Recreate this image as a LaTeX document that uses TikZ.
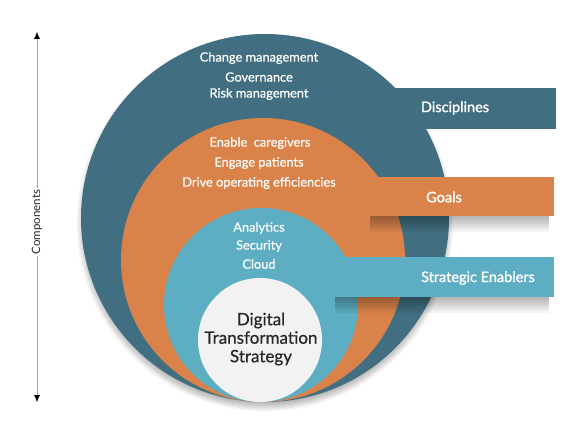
\documentclass[tikz,border=0pt]{standalone}
\usepackage{fontspec}
\setmainfont{Lato}
\newfontfamily\medfont{Lato}[FakeBold=0.6]
\newfontfamily\semifont{Lato}[FakeBold=1.4]
\usepackage{tikz}
\usetikzlibrary{arrows.meta,shadows.blur}
\definecolor{discblue}{HTML}{416E80}
\definecolor{goalorange}{HTML}{D9834A}
\definecolor{enabteal}{HTML}{5DADC3}
\definecolor{corewhite}{HTML}{F2F2F2}

\begin{document}
\begin{tikzpicture}[x=1pt, y=-1pt,
  ring/.style = {circle, inner sep=0pt, draw=none},
  band/.style = {rectangle, inner sep=0pt, draw=none, anchor=west, minimum height=40pt},
  item/.style = {text=white, font=\medfont\fontsize{12.8}{14}\selectfont},
  tag/.style = {text=white, font=\semifont\fontsize{14.5}{16}\selectfont},
  shade/.style = {blur shadow={shadow xshift=0pt, shadow yshift=-5pt, shadow blur radius=5pt, shadow blur steps=10, shadow opacity=30}}]
	\useasboundingbox (0,0) rectangle (584,425);
	% rings and bands, outer to inner
	\node[ring, fill=discblue, minimum size=368pt, shade] (outer) at (265,218){};
	\node[band, fill=discblue, minimum width=171pt, minimum height=41pt] (discbar) at (385,108.5){};
	\node[ring, fill=goalorange, minimum size=284pt] (mid) at (263,260){};
	\node[band, fill=goalorange, minimum width=184pt, minimum height=39pt] (goalbar) at (370,196.5){};
	\foreach \d in {2,4,...,16}
		\fill[black, opacity=0.04] (goalbar.south west) rectangle ([xshift=-5pt, yshift=-\d pt]goalbar.south east);
	\node[ring, fill=enabteal, minimum size=194pt] (inner) at (261,305){};
	\node[band, fill=enabteal, minimum width=219pt, minimum height=40pt] (enabbar) at (335,277){};
	\foreach \d in {2,4,...,16}
		\fill[black, opacity=0.04] (enabbar.south west) rectangle ([xshift=-5pt, yshift=-\d pt]enabbar.south east);
	\node[ring, fill=corewhite, minimum size=124pt] (core) at (260,340){};
	% texts
	\node[item] (chg) at (259,58){Change management};
	\node[item] (gov) at (259,77){Governance};
	\node[item] (risk) at (259,94){Risk management};
	\node[item] (care) at (260,143){Enable\ \ caregivers};
	\node[item] (pat) at (259,163){Engage patients};
	\node[item] (eff) at (259,183){Drive operating efficiencies};
	\node[item] (ana) at (259,228){Analytics};
	\node[item] (sec) at (259,246){Security};
	\node[item] (cld) at (259,264){Cloud};
	\node[tag] (disc) at (455,108){Disciplines};
	\node[tag] (goal) at (444,197){Goals};
	\node[tag] (enab) at (478,278){Strategic Enablers};
	\node[align=center, text=black!85, font=\medfont\fontsize{17}{18.5}\selectfont] (dts) at (261,339){Digital\\Transformation\\Strategy};
	% components axis
	\coordinate (ctop) at (37,32);
	\coordinate (cbot) at (37,402);
	\node[rotate=90, fill=white, inner sep=2pt, text=black!85, font=\fontsize{11.5}{13}\selectfont] (comp) at (37,222){Components};
	\draw[gray!70, -{Latex[black, length=7pt, width=6pt]}] (comp) -- (ctop);
	\draw[gray!70, -{Latex[black, length=7pt, width=6pt]}] (comp) -- (cbot);
\end{tikzpicture}
\end{document}
